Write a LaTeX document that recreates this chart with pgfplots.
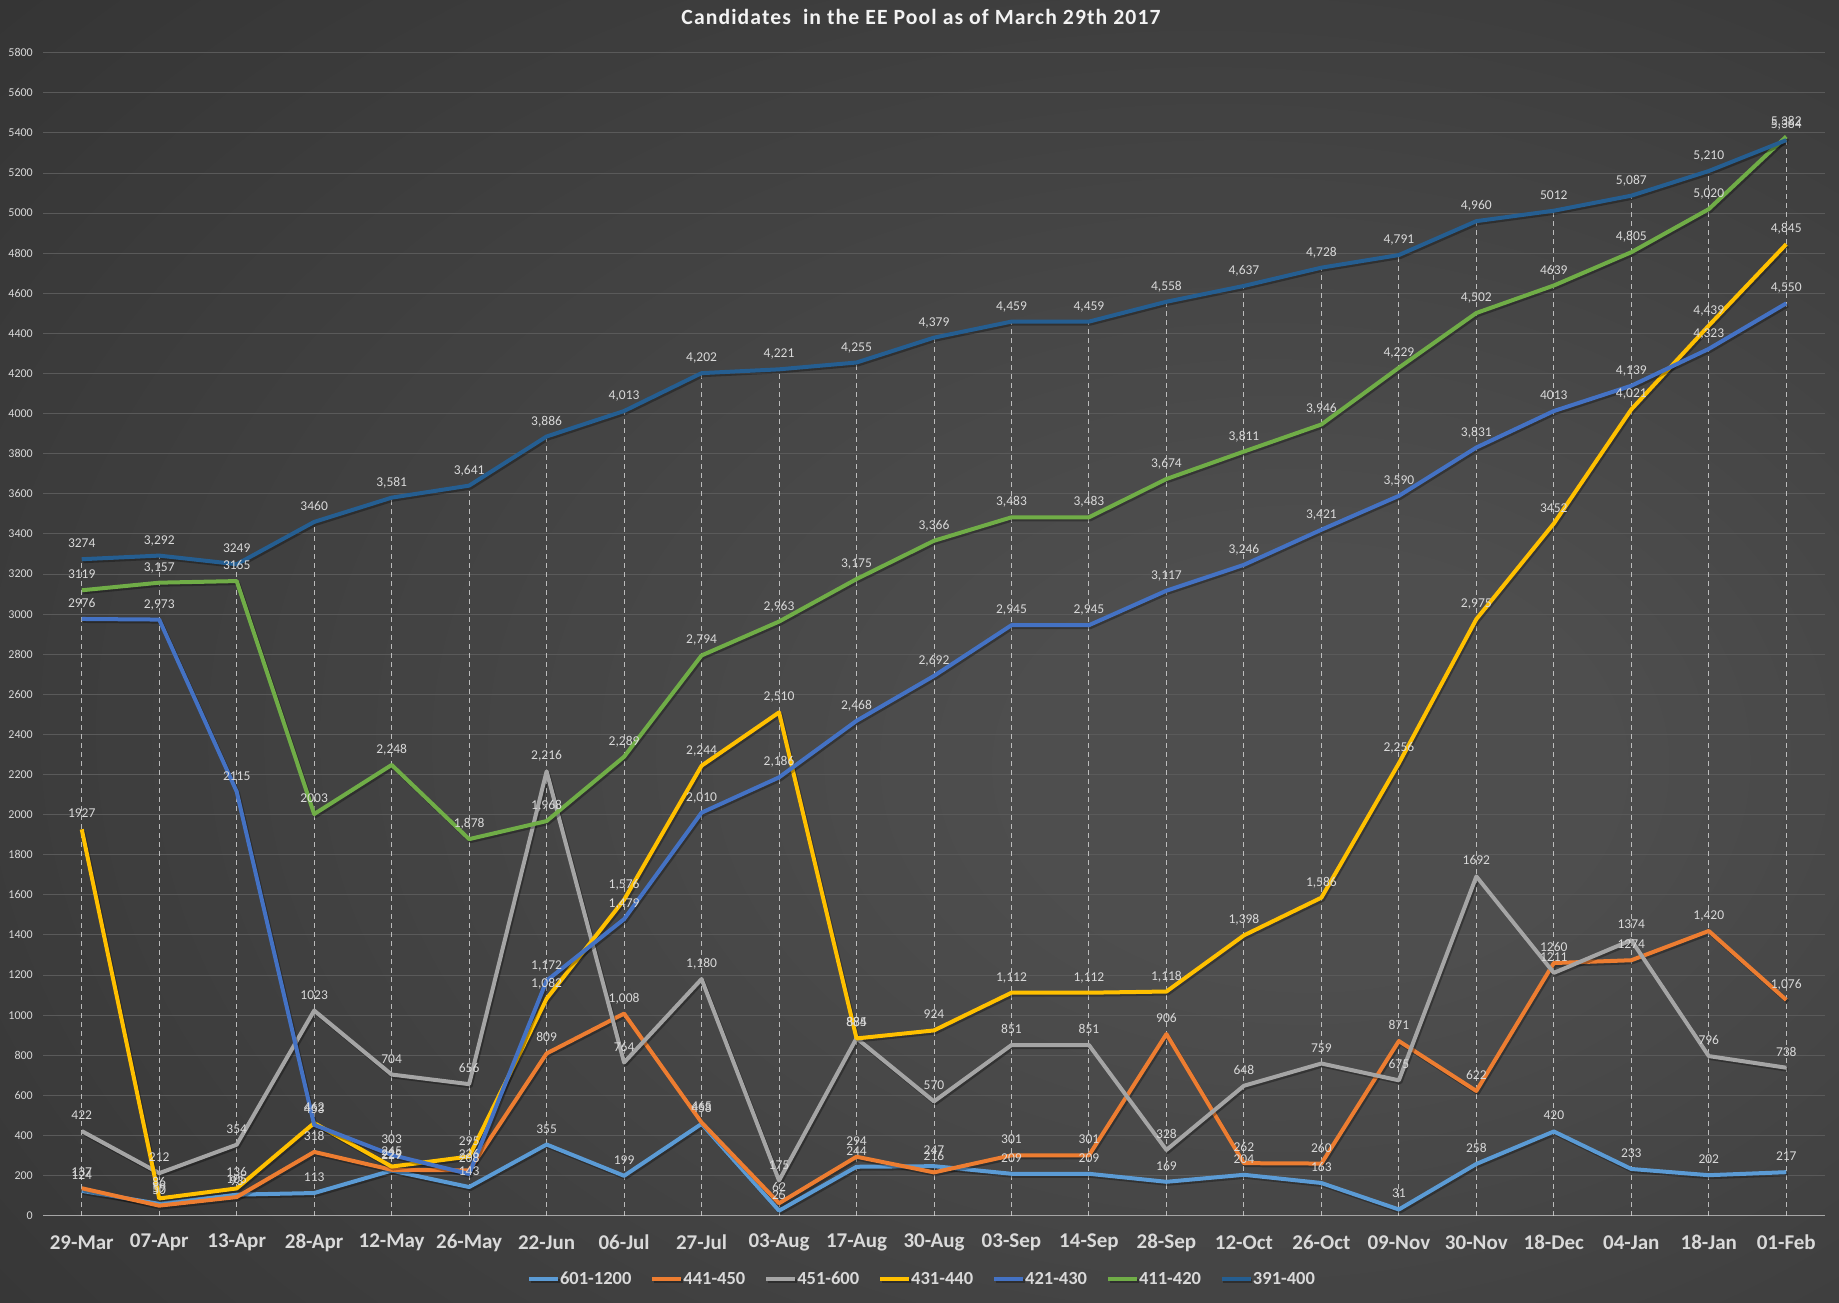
\documentclass[border=0pt]{standalone}
\usepackage{fontspec}
\setmainfont{Carlito}
\newfontfamily\titlefont{Carlito}[LetterSpace=5]
\usepackage{pgfplots}
\pgfplotsset{compat=1.18}

\definecolor{sA}{HTML}{5B9BD5}
\definecolor{sB}{HTML}{ED7D31}
\definecolor{sC}{HTML}{A5A5A5}
\definecolor{sD}{HTML}{FFC000}
\definecolor{sE}{HTML}{4472C4}
\definecolor{sF}{HTML}{70AD47}
\definecolor{sG}{HTML}{255E91}
\definecolor{bgin}{HTML}{4E4E4E}
\definecolor{bgmid}{HTML}{2E2E2E}
\definecolor{bgout}{HTML}{222222}
\definecolor{txt}{HTML}{D9D9D9}
\definecolor{gridc}{HTML}{5A5A5A}
\definecolor{axc}{HTML}{A6A6A6}

\pgfdeclareradialshading{bgshade}{\pgfpoint{12bp}{-5bp}}{color(0bp)=(bgin); color(8bp)=(bgin); color(50bp)=(bgmid); color(75bp)=(bgout)}

\pgfplotsset{
  ser/.style={line width=4bp, line join=round,
    preaction={draw=black, opacity=0.3, line width=4bp, transform canvas={xshift=1.5bp,yshift=-2bp}},
    nodes near coords={\pgfplotspointmeta}, point meta=explicit symbolic,
    every node near coord/.append style={font=\fontsize{13.5bp}{16bp}\selectfont, text=txt, anchor=base, inner sep=0pt, yshift=11.5bp}},
}

\begin{document}
\begin{tikzpicture}
\shade[shading=bgshade] (0,0) rectangle (1839bp,1303bp);
\begin{axis}[
  at={(43bp,87.3bp)}, anchor=south west,
  scale only axis, width=1782bp, height=1163bp,
  xmin=-0.5, xmax=22.5, ymin=0, ymax=5800,
  clip=false,
  axis x line=bottom, axis y line=left,
  x axis line style={draw=axc, line width=1.5bp, -},
  y axis line style={draw=none},
  major tick length=0pt,
  ytick={0,200,...,5800},
  ymajorgrids, major grid style={draw=gridc, line width=1bp},
  xtick={0,...,22},
  xticklabels={29-Mar,07-Apr,13-Apr,28-Apr,12-May,26-May,22-Jun,06-Jul,27-Jul,03-Aug,17-Aug,30-Aug,03-Sep,14-Sep,28-Sep,12-Oct,26-Oct,09-Nov,30-Nov,18-Dec,04-Jan,18-Jan,01-Feb},
  xticklabel style={font=\fontsize{21bp}{25bp}\selectfont\bfseries, text=txt, anchor=center, yshift=-27bp},
  yticklabel style={font=\fontsize{12bp}{14bp}\selectfont, text=txt, anchor=east, inner sep=0pt, xshift=-10bp},
  /pgf/number format/assume math mode=true,
  /pgf/number format/1000 sep={},
  title={\titlefont Candidates\ \ in the EE Pool as of March 29th 2017},
  title style={at={(axis description cs:0.4927,1)}, anchor=center, yshift=29.6bp, font=\fontsize{21.7bp}{26bp}\selectfont\bfseries, text={rgb,255:red,242;green,242;blue,242}},
  legend columns=7,
  legend style={at={(axis description cs:0.4927,-0.0544)}, anchor=center, draw=none, fill=none,
    font=\fontsize{18.5bp}{22bp}\selectfont\bfseries, text=txt,
    /tikz/every even column/.append style={column sep=19bp},
    nodes={inner sep=0pt}},
  legend image code/.code={\draw[#1, line width=4bp] (0bp,0bp) -- (29bp,0bp);},
]
% drop lines
\addplot[forget plot, ycomb, draw=txt, dash pattern=on 5bp off 4bp, line width=1bp, opacity=0.8] table[x=x,y=y] {
x y
0 3274
1 3292
2 3249
3 3460
4 3581
5 3641
6 3886
7 4013
8 4202
9 4221
10 4255
11 4379
12 4459
13 4459
14 4558
15 4637
16 4728
17 4791
18 4960
19 5012
20 5087
21 5210
22 5382
};
% 601-1200
\addplot[ser, color=sA] table[x=x,y=y,meta=l] {
x y l
0 124 124
1 59 59
2 105 105
3 113 113
4 225 229
5 143 143
6 355 355
7 199 199
8 458 458
9 25 25
10 244 244
11 247 247
12 209 209
13 209 209
14 169 169
15 204 204
16 163 163
17 31 31
18 258 258
19 420 420
20 233 233
21 202 202
22 217 217
};
\addlegendentry{601-1200}
% 441-450
\addplot[ser, color=sB] table[x=x,y=y,meta=l] {
x y l
0 137 137
1 50 50
2 93 93
3 318 318
4 229 229
5 226 226
6 809 809
7 1008 1,008
8 465 465
9 62 62
10 294 294
11 216 216
12 301 301
13 301 301
14 906 906
15 262 262
16 260 260
17 871 871
18 622 622
19 1260 1260
20 1274 1274
21 1420 1,420
22 1076 1,076
};
\addlegendentry{441-450}
% 451-600
\addplot[ser, color=sC] table[x=x,y=y,meta=l] {
x y l
0 422 422
1 212 212
2 354 354
3 1023 1023
4 704 704
5 656 656
6 2216 2,216
7 764 764
8 1180 1,180
9 175 175
10 885 885
11 570 570
12 851 851
13 851 851
14 328 328
15 648 648
16 759 759
17 675 675
18 1692 1692
19 1211 1211
20 1374 1374
21 796 796
22 738 738
};
\addlegendentry{451-600}
% 431-440
\addplot[ser, color=sD] table[x=x,y=y,meta=l] {
x y l
0 1927 1927
1 86 86
2 136 136
3 462 462
4 245 245
5 295 295
6 1082 1,082
7 1576 1,576
8 2244 2,244
9 2510 2,510
10 884 884
11 924 924
12 1112 1,112
13 1112 1,112
14 1118 1,118
15 1398 1,398
16 1586 1,586
17 2256 2,256
18 2975 2,975
19 3452 3452
20 4021 4,021
21 4439 4,439
22 4845 4,845
};
\addlegendentry{431-440}
% 421-430
\addplot[ser, color=sE] table[x=x,y=y,meta=l] {
x y l
0 2976 2976
1 2973 2,973
2 2115 2115
3 453 453
4 303 303
5 208 208
6 1172 1,172
7 1479 1,479
8 2010 2,010
9 2186 2,186
10 2468 2,468
11 2692 2,692
12 2945 2,945
13 2945 2,945
14 3117 3,117
15 3246 3,246
16 3421 3,421
17 3590 3,590
18 3831 3,831
19 4013 4013
20 4139 4,139
21 4323 4,323
22 4550 4,550
};
\addlegendentry{421-430}
% 411-420
\addplot[ser, color=sF] table[x=x,y=y,meta=l] {
x y l
0 3119 3119
1 3157 3,157
2 3165 3165
3 2003 2003
4 2248 2,248
5 1878 1,878
6 1968 1,968
7 2289 2,289
8 2794 2,794
9 2963 2,963
10 3175 3,175
11 3366 3,366
12 3483 3,483
13 3483 3,483
14 3674 3,674
15 3811 3,811
16 3946 3,946
17 4229 4,229
18 4502 4,502
19 4639 4639
20 4805 4,805
21 5020 5,020
22 5382 5,382
};
\addlegendentry{411-420}
% 391-400
\addplot[ser, color=sG] table[x=x,y=y,meta=l] {
x y l
0 3274 3274
1 3292 3,292
2 3249 3249
3 3460 3460
4 3581 3,581
5 3641 3,641
6 3886 3,886
7 4013 4,013
8 4202 4,202
9 4221 4,221
10 4255 4,255
11 4379 4,379
12 4459 4,459
13 4459 4,459
14 4558 4,558
15 4637 4,637
16 4728 4,728
17 4791 4,791
18 4960 4,960
19 5012 5012
20 5087 5,087
21 5210 5,210
22 5364 5,364
};
\addlegendentry{391-400}
\end{axis}
\pgfresetboundingbox
\path[use as bounding box] (0,0) rectangle (1839bp,1303bp);
\end{tikzpicture}
\end{document}
